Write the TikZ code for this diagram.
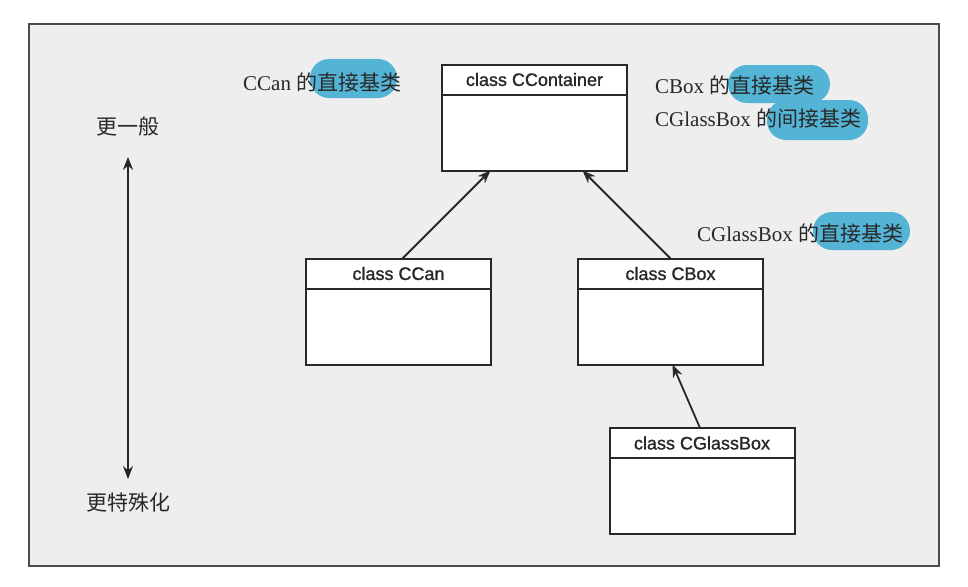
\documentclass[tikz,border=0pt]{standalone}
\usepackage{fontspec}
\setmainfont{Liberation Serif}
\newfontfamily\cjk{Noto Sans CJK SC}
\newfontfamily\boxfont{Liberation Sans}[FakeBold=1.3]
\usetikzlibrary{positioning, arrows.meta}
\definecolor{hiliteblue}{RGB}{84,180,214}
\definecolor{panelgray}{RGB}{238,238,238}
\definecolor{ink}{RGB}{40,40,40}
\tikzset{
  classhead/.style={draw=ink, line width=2pt, fill=white, minimum width=185pt,
    minimum height=30pt, inner sep=0pt, outer sep=0pt, text=ink,
    font=\boxfont\fontsize{18}{20}\selectfont},
  classbody/.style={draw=ink, line width=2pt, fill=white, minimum width=185pt,
    minimum height=76pt, inner sep=0pt, outer sep=0pt},
  inherit/.style={draw=ink, line width=1.8pt, -{Stealth[length=13pt,width=10pt]}},
  lbl/.style={inner sep=0pt, anchor=west, text=ink, font=\fontsize{21}{24}\selectfont},
  hilite/.style={fill=hiliteblue, rounded corners=19pt},
}
\begin{document}
\begin{tikzpicture}[x=1pt, y=-1pt]
  \useasboundingbox (0,0) rectangle (968,586);
  \draw[line width=2pt, draw=black!70, fill=panelgray] (29,24) rectangle (939,566);
  % highlighter marks
  \fill[hilite] (310,59) rectangle (397,98);
  \fill[hilite] (728,65) rectangle (830,103);
  \fill[hilite] (767,100) rectangle (868,140);
  \fill[hilite] (813,212) rectangle (910,250);
  \node[lbl] (canbase) at (243,82) {CCan {\cjk 的直接基类}};
  \node[lbl] (boxbase) at (655,85) {CBox {\cjk 的直接基类}};
  \node[lbl] (glassind) at (655,118) {CGlassBox {\cjk 的间接基类}};
  \node[lbl] (glassbase) at (697,233) {CGlassBox {\cjk 的直接基类}};
  % classes
  \node[classhead] (cc) at (534.5,79.5) {class CContainer};
  \node[classbody, below=0pt of cc] (cc-body) {};
  \node[classhead] (can) at (398.5,273.5) {class CCan};
  \node[classbody, below=0pt of can] (can-body) {};
  \node[classhead] (box) at (670.5,273.5) {class CBox};
  \node[classbody, below=0pt of box] (box-body) {};
  \node[classhead] (glass) at (702,443) {class CGlassBox};
  \node[classbody, below=0pt of glass] (glass-body) {};
  \draw[inherit] ([xshift=4pt]can.north) -- ([xshift=-44pt]cc-body.south);
  \draw[inherit] (box.north) -- ([xshift=48pt]cc-body.south);
  \draw[inherit] ([xshift=-2pt]glass.north) -- ([xshift=2pt]box-body.south);
  % direction
  \node[lbl, anchor=center] (general) at (128,127) {\cjk 更一般};
  \node[lbl, anchor=center] (special) at (128,503) {\cjk 更特殊化};
  \draw[draw=ink, line width=1.8pt, {Stealth[length=13pt,width=10pt]}-{Stealth[length=13pt,width=10pt]}]
    ([yshift=-20pt]general.south) -- ([yshift=14pt]special.north);
\end{tikzpicture}
\end{document}
